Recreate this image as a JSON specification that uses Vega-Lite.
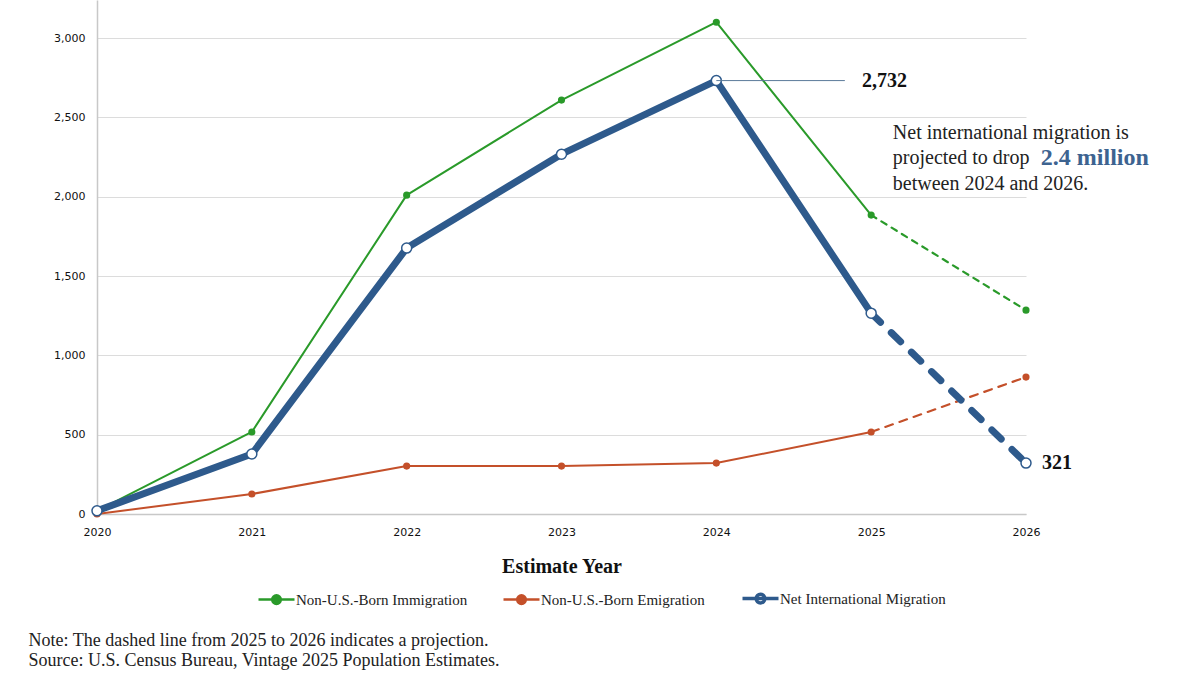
{
  "$schema": "https://vega.github.io/schema/vega-lite/v6.json",
  "width": 929,
  "height": 514,
  "autosize": {"type": "none"},
  "padding": {"left": 97, "top": 0, "right": 174, "bottom": 161},
  "background": "white",
  "config": {"view": {"stroke": null}, "font": "Liberation Serif"},
  "title": {
    "text": ["Note: The dashed line from 2025 to 2026 indicates a projection.", "Source: U.S. Census Bureau, Vintage 2025 Population Estimates."],
    "orient": "bottom",
    "anchor": "start",
    "frame": "bounds",
    "font": "Liberation Serif",
    "fontSize": 18,
    "fontWeight": "normal",
    "color": "#222222",
    "lineHeight": 20,
    "offset": 22,
    "dx": -25
  },
  "datasets": {
    "migration": [
      {"year": 2020, "series": "Non-U.S.-Born Immigration", "value": 20},
      {"year": 2021, "series": "Non-U.S.-Born Immigration", "value": 517},
      {"year": 2022, "series": "Non-U.S.-Born Immigration", "value": 2010},
      {"year": 2023, "series": "Non-U.S.-Born Immigration", "value": 2609},
      {"year": 2024, "series": "Non-U.S.-Born Immigration", "value": 3100},
      {"year": 2025, "series": "Non-U.S.-Born Immigration", "value": 1884},
      {"year": 2026, "series": "Non-U.S.-Born Immigration", "value": 1285},
      {"year": 2020, "series": "Non-U.S.-Born Emigration", "value": 0},
      {"year": 2021, "series": "Non-U.S.-Born Emigration", "value": 126},
      {"year": 2022, "series": "Non-U.S.-Born Emigration", "value": 302},
      {"year": 2023, "series": "Non-U.S.-Born Emigration", "value": 302},
      {"year": 2024, "series": "Non-U.S.-Born Emigration", "value": 321},
      {"year": 2025, "series": "Non-U.S.-Born Emigration", "value": 517},
      {"year": 2026, "series": "Non-U.S.-Born Emigration", "value": 863},
      {"year": 2020, "series": "Net International Migration", "value": 20},
      {"year": 2021, "series": "Net International Migration", "value": 378},
      {"year": 2022, "series": "Net International Migration", "value": 1676},
      {"year": 2023, "series": "Net International Migration", "value": 2268},
      {"year": 2024, "series": "Net International Migration", "value": 2732},
      {"year": 2025, "series": "Net International Migration", "value": 1266},
      {"year": 2026, "series": "Net International Migration", "value": 321}
    ]
  },
  "layer": [
    {
      "data": {"name": "migration"},
      "transform": [{"filter": "datum.year <= 2025"}],
      "mark": {"type": "line", "strokeCap": "round", "strokeJoin": "round"},
      "encoding": {
        "x": {
          "field": "year", "type": "quantitative",
          "scale": {"domain": [2020, 2026], "nice": false, "zero": false},
          "axis": {
            "values": [2020, 2021, 2022, 2023, 2024, 2025, 2026],
            "format": "d", "title": "Estimate Year", "grid": false, "ticks": false,
            "domainColor": "#c8c8c8", "domainWidth": 1.5,
            "labelFont": "DejaVu Sans", "labelFontSize": 11, "labelColor": "#111111",
            "labelPadding": 12, "labelFlush": false,
            "titleFont": "Liberation Serif", "titleFontSize": 20, "titleFontWeight": "bold",
            "titleColor": "#111111", "titlePadding": 19
          }
        },
        "y": {
          "field": "value", "type": "quantitative",
          "scale": {"domain": [0, 3240], "nice": false},
          "axis": {
            "values": [0, 500, 1000, 1500, 2000, 2500, 3000],
            "format": ",d", "title": null, "grid": true, "gridColor": "#dcdcdc",
            "ticks": false, "domainColor": "#c8c8c8", "domainWidth": 1.5,
            "labelFont": "DejaVu Sans", "labelFontSize": 11, "labelColor": "#111111",
            "labelPadding": 12
          }
        },
        "color": {
          "field": "series", "type": "nominal",
          "scale": {
            "domain": ["Non-U.S.-Born Immigration", "Non-U.S.-Born Emigration", "Net International Migration"],
            "range": ["#2a9a2a", "#c4502a", "#2e5a8c"]
          },
          "legend": {
            "orient": "none", "legendX": 172, "legendY": 591,
            "direction": "horizontal", "title": null,
            "symbolType": "M-1,0L1,0M0.24,0A0.24,0.24,0,1,1,-0.24,0A0.24,0.24,0,1,1,0.24,0Z",
            "symbolSize": 1296,
            "labelFont": "Liberation Serif", "labelFontSize": 15, "labelColor": "#222222",
            "labelLimit": 400,
            "labelOffset": 12, "columnPadding": 30,
            "encode": {
              "symbols": {
                "update": {
                  "size": {"value": 1296},
                  "fill": {"signal": "datum.value === 'Net International Migration' ? '#ffffff' : scale('color', datum.value)"},
                  "stroke": {"signal": "scale('color', datum.value)"},
                  "strokeWidth": {"signal": "datum.value === 'Net International Migration' ? 3.5 : 2.5"},
                  "opacity": {"value": 1},
                  "strokeDash": {"value": []}
                }
              }
            }
          }
        },
        "strokeWidth": {
          "condition": {"test": "datum.series === 'Net International Migration'", "value": 7},
          "value": 2
        }
      }
    },
    {
      "data": {"name": "migration"},
      "transform": [{"filter": "datum.year >= 2025"}],
      "mark": {"type": "line", "strokeCap": "round"},
      "encoding": {
        "x": {"field": "year", "type": "quantitative"},
        "y": {"field": "value", "type": "quantitative"},
        "color": {"field": "series", "type": "nominal"},
        "strokeWidth": {
          "condition": {"test": "datum.series === 'Net International Migration'", "value": 7},
          "value": 2.2
        },
        "strokeDash": {
          "condition": [
            {"test": "datum.series === 'Net International Migration'", "value": [13, 15]},
            {"test": "datum.series === 'Non-U.S.-Born Emigration'", "value": [8, 7]}
          ],
          "value": [6, 6]
        }
      }
    },
    {
      "data": {"name": "migration"},
      "mark": {"type": "point", "filled": false, "opacity": 1, "strokeWidth": 1.5},
      "encoding": {
        "x": {"field": "year", "type": "quantitative"},
        "y": {"field": "value", "type": "quantitative"},
        "color": {"field": "series", "type": "nominal"},
        "fill": {
          "condition": [
            {"test": "datum.series === 'Net International Migration'", "value": "#ffffff"},
            {"test": "datum.series === 'Non-U.S.-Born Emigration'", "value": "#c4502a"}
          ],
          "value": "#2a9a2a"
        },
        "size": {
          "condition": {"test": "datum.series === 'Net International Migration'", "value": 100},
          "value": 32
        }
      }
    },
    {
      "data": {"values": [{}]},
      "mark": {"type": "rule", "color": "#5b7a9a", "strokeWidth": 1},
      "encoding": {
        "x": {"datum": 2024},
        "x2": {"datum": 2024.83},
        "y": {"datum": 2732}
      }
    },
    {
      "data": {"values": [{"label": "2,732"}]},
      "mark": {"type": "text", "align": "left", "baseline": "middle", "font": "Liberation Serif", "fontSize": 20, "fontWeight": "bold", "color": "#111111"},
      "encoding": {"x": {"datum": 2024.94}, "y": {"datum": 2732}, "text": {"field": "label"}}
    },
    {
      "data": {"values": [{"label": "321"}]},
      "mark": {"type": "text", "align": "left", "baseline": "middle", "dx": 16, "font": "Liberation Serif", "fontSize": 20, "fontWeight": "bold", "color": "#111111"},
      "encoding": {"x": {"datum": 2026}, "y": {"datum": 321}, "text": {"field": "label"}}
    },
    {
      "data": {"values": [{"label": "Net international migration is"}]},
      "mark": {"type": "text", "align": "left", "baseline": "middle", "font": "Liberation Serif", "fontSize": 20, "color": "#222222"},
      "encoding": {"x": {"datum": 2025.14}, "y": {"datum": 2401}, "text": {"field": "label"}}
    },
    {
      "data": {"values": [{"label": "projected to drop"}]},
      "mark": {"type": "text", "align": "left", "baseline": "middle", "font": "Liberation Serif", "fontSize": 20, "color": "#222222"},
      "encoding": {"x": {"datum": 2025.14}, "y": {"datum": 2243}, "text": {"field": "label"}}
    },
    {
      "data": {"values": [{"label": "2.4 million"}]},
      "mark": {"type": "text", "align": "left", "baseline": "middle", "dx": 148, "font": "Liberation Serif", "fontSize": 24, "fontWeight": "bold", "color": "#3d6390"},
      "encoding": {"x": {"datum": 2025.14}, "y": {"datum": 2243}, "text": {"field": "label"}}
    },
    {
      "data": {"values": [{"label": "between 2024 and 2026."}]},
      "mark": {"type": "text", "align": "left", "baseline": "middle", "font": "Liberation Serif", "fontSize": 20, "color": "#222222"},
      "encoding": {"x": {"datum": 2025.14}, "y": {"datum": 2079}, "text": {"field": "label"}}
    }
  ]
}
